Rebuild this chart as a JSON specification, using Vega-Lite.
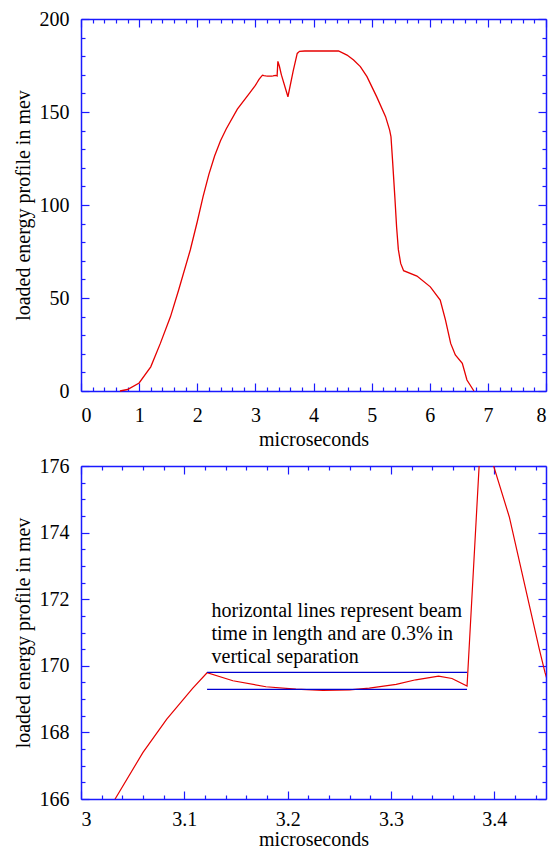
{
  "$schema": "https://vega.github.io/schema/vega-lite/v6.json",
  "padding": {"left": 13, "top": 9, "right": 5, "bottom": 5},
  "config": {
    "font": "Liberation Serif, Times New Roman, serif",
    "view": {"stroke": null},
    "text": {"font": "Liberation Serif, Times New Roman, serif"},
    "axis": {
      "grid": false,
      "labelFont": "Liberation Serif, Times New Roman, serif",
      "labelFontSize": 20,
      "labelColor": "black",
      "titleFont": "Liberation Serif, Times New Roman, serif",
      "titleFontSize": 20,
      "titleFontWeight": "normal",
      "titleColor": "black",
      "domainColor": "#1a1aff",
      "domainWidth": 1.5,
      "tickColor": "#1a1aff",
      "tickWidth": 1.2
    }
  },
  "datasets": {
    "curve": [
      {"t": 0.67, "e": 0}, {"t": 0.8, "e": 0.8}, {"t": 1.0, "e": 4.3}, {"t": 1.2, "e": 13}, {"t": 1.365, "e": 25.6},
      {"t": 1.54, "e": 40}, {"t": 1.68, "e": 54.3}, {"t": 1.88, "e": 75.8}, {"t": 2.0, "e": 91}, {"t": 2.1, "e": 104.5},
      {"t": 2.2, "e": 116.5}, {"t": 2.3, "e": 126.5}, {"t": 2.4, "e": 134.5}, {"t": 2.5, "e": 141}, {"t": 2.69, "e": 151.5}, {"t": 2.91, "e": 160.5}, {"t": 3.0, "e": 164.3},
      {"t": 3.033, "e": 166.0}, {"t": 3.06, "e": 167.4}, {"t": 3.083, "e": 168.4}, {"t": 3.108, "e": 169.32},
      {"t": 3.122, "e": 169.79}, {"t": 3.147, "e": 169.55}, {"t": 3.179, "e": 169.37}, {"t": 3.208, "e": 169.3},
      {"t": 3.234, "e": 169.26}, {"t": 3.26, "e": 169.28}, {"t": 3.279, "e": 169.33}, {"t": 3.305, "e": 169.44},
      {"t": 3.324, "e": 169.58}, {"t": 3.346, "e": 169.69}, {"t": 3.359, "e": 169.62}, {"t": 3.3736, "e": 169.39},
      {"t": 3.3874, "e": 177.2}, {"t": 3.4145, "e": 174.47}, {"t": 3.4435, "e": 170.5}, {"t": 3.449, "e": 169.8},
      {"t": 3.56, "e": 158.2}, {"t": 3.65, "e": 172}, {"t": 3.72, "e": 181.5}, {"t": 3.76, "e": 182.6},
      {"t": 3.85, "e": 182.8}, {"t": 4.43, "e": 182.8}, {"t": 4.577, "e": 180.6}, {"t": 4.69, "e": 178},
      {"t": 4.806, "e": 174.4}, {"t": 4.92, "e": 169}, {"t": 5.09, "e": 158}, {"t": 5.24, "e": 147.5},
      {"t": 5.31, "e": 140.3}, {"t": 5.333, "e": 136.7}, {"t": 5.36, "e": 124}, {"t": 5.4, "e": 104},
      {"t": 5.43, "e": 88}, {"t": 5.46, "e": 76}, {"t": 5.5, "e": 68.6}, {"t": 5.55, "e": 64.7},
      {"t": 5.78, "e": 61.8}, {"t": 6.01, "e": 56}, {"t": 6.18, "e": 48.9}, {"t": 6.27, "e": 38.2},
      {"t": 6.36, "e": 25.6}, {"t": 6.44, "e": 19.4}, {"t": 6.56, "e": 14.9}, {"t": 6.64, "e": 5.9},
      {"t": 6.76, "e": 0}
    ],
    "lines": [
      {"x1": 3.122, "x2": 3.3736, "y": 169.8},
      {"x1": 3.122, "x2": 3.3736, "y": 169.29}
    ],
    "note": [
      {"x": 3.1263, "y": 171.46, "label": "horizontal lines represent beam\ntime in length and are 0.3% in\nvertical separation"}
    ]
  },
  "spacing": 7,
  "vconcat": [
    {
      "width": 465,
      "height": 372,
      "data": {"name": "curve"},
      "layer": [
        {
          "mark": {"type": "line", "color": "#e60000", "strokeWidth": 1.3},
          "encoding": {
            "x": {"field": "t", "type": "quantitative", "scale": {"domain": [0, 8], "nice": false, "zero": false},
                  "axis": {"orient": "bottom", "values": [0, 1, 2, 3, 4, 5, 6, 7, 8], "format": "~r", "tickSize": -8, "labelPadding": 22, "title": "microseconds", "titlePadding": 4}},
            "y": {"field": "e", "type": "quantitative", "scale": {"domain": [0, 200], "nice": false, "zero": false},
                  "axis": {"orient": "left", "values": [0, 50, 100, 150, 200], "format": "~r", "tickSize": -8, "labelPadding": 20, "title": "loaded energy profile in mev", "titlePadding": 6}}
          }
        },
        {
          "mark": {"type": "line", "opacity": 0},
          "encoding": {
            "x": {"field": "t", "type": "quantitative", "scale": {"domain": [0, 8], "nice": false, "zero": false},
                  "axis": {"orient": "bottom", "values": [0.2, 0.4, 0.6, 0.8, 1.2, 1.4, 1.6, 1.8, 2.2, 2.4, 2.6, 2.8, 3.2, 3.4, 3.6, 3.8, 4.2, 4.4, 4.6, 4.8, 5.2, 5.4, 5.6, 5.8, 6.2, 6.4, 6.6, 6.8, 7.2, 7.4, 7.6, 7.8], "tickSize": -4, "labels": false, "domain": false, "title": null}},
            "y": {"field": "e", "type": "quantitative", "scale": {"domain": [0, 200], "nice": false, "zero": false},
                  "axis": {"orient": "left", "values": [10, 20, 30, 40, 60, 70, 80, 90, 110, 120, 130, 140, 160, 170, 180, 190], "tickSize": -4, "labels": false, "domain": false, "title": null}}
          }
        },
        {
          "mark": {"type": "line", "opacity": 0},
          "encoding": {
            "x": {"field": "t", "type": "quantitative", "scale": {"domain": [0, 8], "nice": false, "zero": false},
                  "axis": {"orient": "top", "values": [0, 1, 2, 3, 4, 5, 6, 7, 8], "tickSize": -8, "labels": false, "title": null}},
            "y": {"field": "e", "type": "quantitative", "scale": {"domain": [0, 200], "nice": false, "zero": false},
                  "axis": {"orient": "right", "values": [0, 50, 100, 150, 200], "tickSize": -8, "labels": false, "title": null}}
          }
        },
        {
          "mark": {"type": "line", "opacity": 0},
          "encoding": {
            "x": {"field": "t", "type": "quantitative", "scale": {"domain": [0, 8], "nice": false, "zero": false},
                  "axis": {"orient": "top", "values": [0.2, 0.4, 0.6, 0.8, 1.2, 1.4, 1.6, 1.8, 2.2, 2.4, 2.6, 2.8, 3.2, 3.4, 3.6, 3.8, 4.2, 4.4, 4.6, 4.8, 5.2, 5.4, 5.6, 5.8, 6.2, 6.4, 6.6, 6.8, 7.2, 7.4, 7.6, 7.8], "tickSize": -4, "labels": false, "domain": false, "title": null}},
            "y": {"field": "e", "type": "quantitative", "scale": {"domain": [0, 200], "nice": false, "zero": false},
                  "axis": {"orient": "right", "values": [10, 20, 30, 40, 60, 70, 80, 90, 110, 120, 130, 140, 160, 170, 180, 190], "tickSize": -4, "labels": false, "domain": false, "title": null}}
          }
        }
      ],
      "resolve": {"axis": {"x": "independent", "y": "independent"}}
    },
    {
      "width": 465,
      "height": 333,
      "layer": [
        {
          "data": {"name": "curve"},
          "mark": {"type": "line", "color": "#e60000", "strokeWidth": 1.2, "clip": true},
          "encoding": {
            "x": {"field": "t", "type": "quantitative", "scale": {"domain": [3, 3.45], "nice": false, "zero": false},
                  "axis": {"orient": "bottom", "values": [3, 3.1, 3.2, 3.3, 3.4], "format": "~r", "tickSize": -8, "labelPadding": 18, "title": "microseconds", "titlePadding": 0}},
            "y": {"field": "e", "type": "quantitative", "scale": {"domain": [166, 176], "nice": false, "zero": false},
                  "axis": {"orient": "left", "values": [166, 168, 170, 172, 174, 176], "format": "~r", "tickSize": -8, "labelPadding": 20, "title": "loaded energy profile in mev", "titlePadding": 6}}
          }
        },
        {
          "data": {"name": "curve"},
          "mark": {"type": "line", "opacity": 0, "clip": true},
          "encoding": {
            "x": {"field": "t", "type": "quantitative", "scale": {"domain": [3, 3.45], "nice": false, "zero": false},
                  "axis": {"orient": "bottom", "values": [3.02, 3.04, 3.06, 3.08, 3.12, 3.14, 3.16, 3.18, 3.22, 3.24, 3.26, 3.28, 3.32, 3.34, 3.36, 3.38, 3.42, 3.44], "tickSize": -4, "labels": false, "domain": false, "title": null}},
            "y": {"field": "e", "type": "quantitative", "scale": {"domain": [166, 176], "nice": false, "zero": false},
                  "axis": {"orient": "left", "values": [166.5, 167, 167.5, 168.5, 169, 169.5, 170.5, 171, 171.5, 172.5, 173, 173.5, 174.5, 175, 175.5], "tickSize": -4, "labels": false, "domain": false, "title": null}}
          }
        },
        {
          "data": {"name": "curve"},
          "mark": {"type": "line", "opacity": 0, "clip": true},
          "encoding": {
            "x": {"field": "t", "type": "quantitative", "scale": {"domain": [3, 3.45], "nice": false, "zero": false},
                  "axis": {"orient": "top", "values": [3, 3.1, 3.2, 3.3, 3.4], "tickSize": -8, "labels": false, "title": null}},
            "y": {"field": "e", "type": "quantitative", "scale": {"domain": [166, 176], "nice": false, "zero": false},
                  "axis": {"orient": "right", "values": [166, 168, 170, 172, 174, 176], "tickSize": -8, "labels": false, "title": null}}
          }
        },
        {
          "data": {"name": "curve"},
          "mark": {"type": "line", "opacity": 0, "clip": true},
          "encoding": {
            "x": {"field": "t", "type": "quantitative", "scale": {"domain": [3, 3.45], "nice": false, "zero": false},
                  "axis": {"orient": "top", "values": [3.02, 3.04, 3.06, 3.08, 3.12, 3.14, 3.16, 3.18, 3.22, 3.24, 3.26, 3.28, 3.32, 3.34, 3.36, 3.38, 3.42, 3.44], "tickSize": -4, "labels": false, "domain": false, "title": null}},
            "y": {"field": "e", "type": "quantitative", "scale": {"domain": [166, 176], "nice": false, "zero": false},
                  "axis": {"orient": "right", "values": [166.5, 167, 167.5, 168.5, 169, 169.5, 170.5, 171, 171.5, 172.5, 173, 173.5, 174.5, 175, 175.5], "tickSize": -4, "labels": false, "domain": false, "title": null}}
          }
        },
        {
          "data": {"name": "lines"},
          "mark": {"type": "rule", "color": "#0000d0", "strokeWidth": 1.2},
          "encoding": {
            "x": {"field": "x1", "type": "quantitative", "scale": {"domain": [3, 3.45], "nice": false, "zero": false}, "axis": null},
            "x2": {"field": "x2"},
            "y": {"field": "y", "type": "quantitative", "scale": {"domain": [166, 176], "nice": false, "zero": false}, "axis": null}
          }
        },
        {
          "data": {"name": "note"},
          "mark": {"type": "text", "align": "left", "baseline": "alphabetic", "fontSize": 20, "lineHeight": 22.7, "lineBreak": "\n", "color": "black"},
          "encoding": {
            "x": {"field": "x", "type": "quantitative", "scale": {"domain": [3, 3.45], "nice": false, "zero": false}, "axis": null},
            "y": {"field": "y", "type": "quantitative", "scale": {"domain": [166, 176], "nice": false, "zero": false}, "axis": null},
            "text": {"field": "label"}
          }
        }
      ],
      "resolve": {"axis": {"x": "independent", "y": "independent"}}
    }
  ]
}
